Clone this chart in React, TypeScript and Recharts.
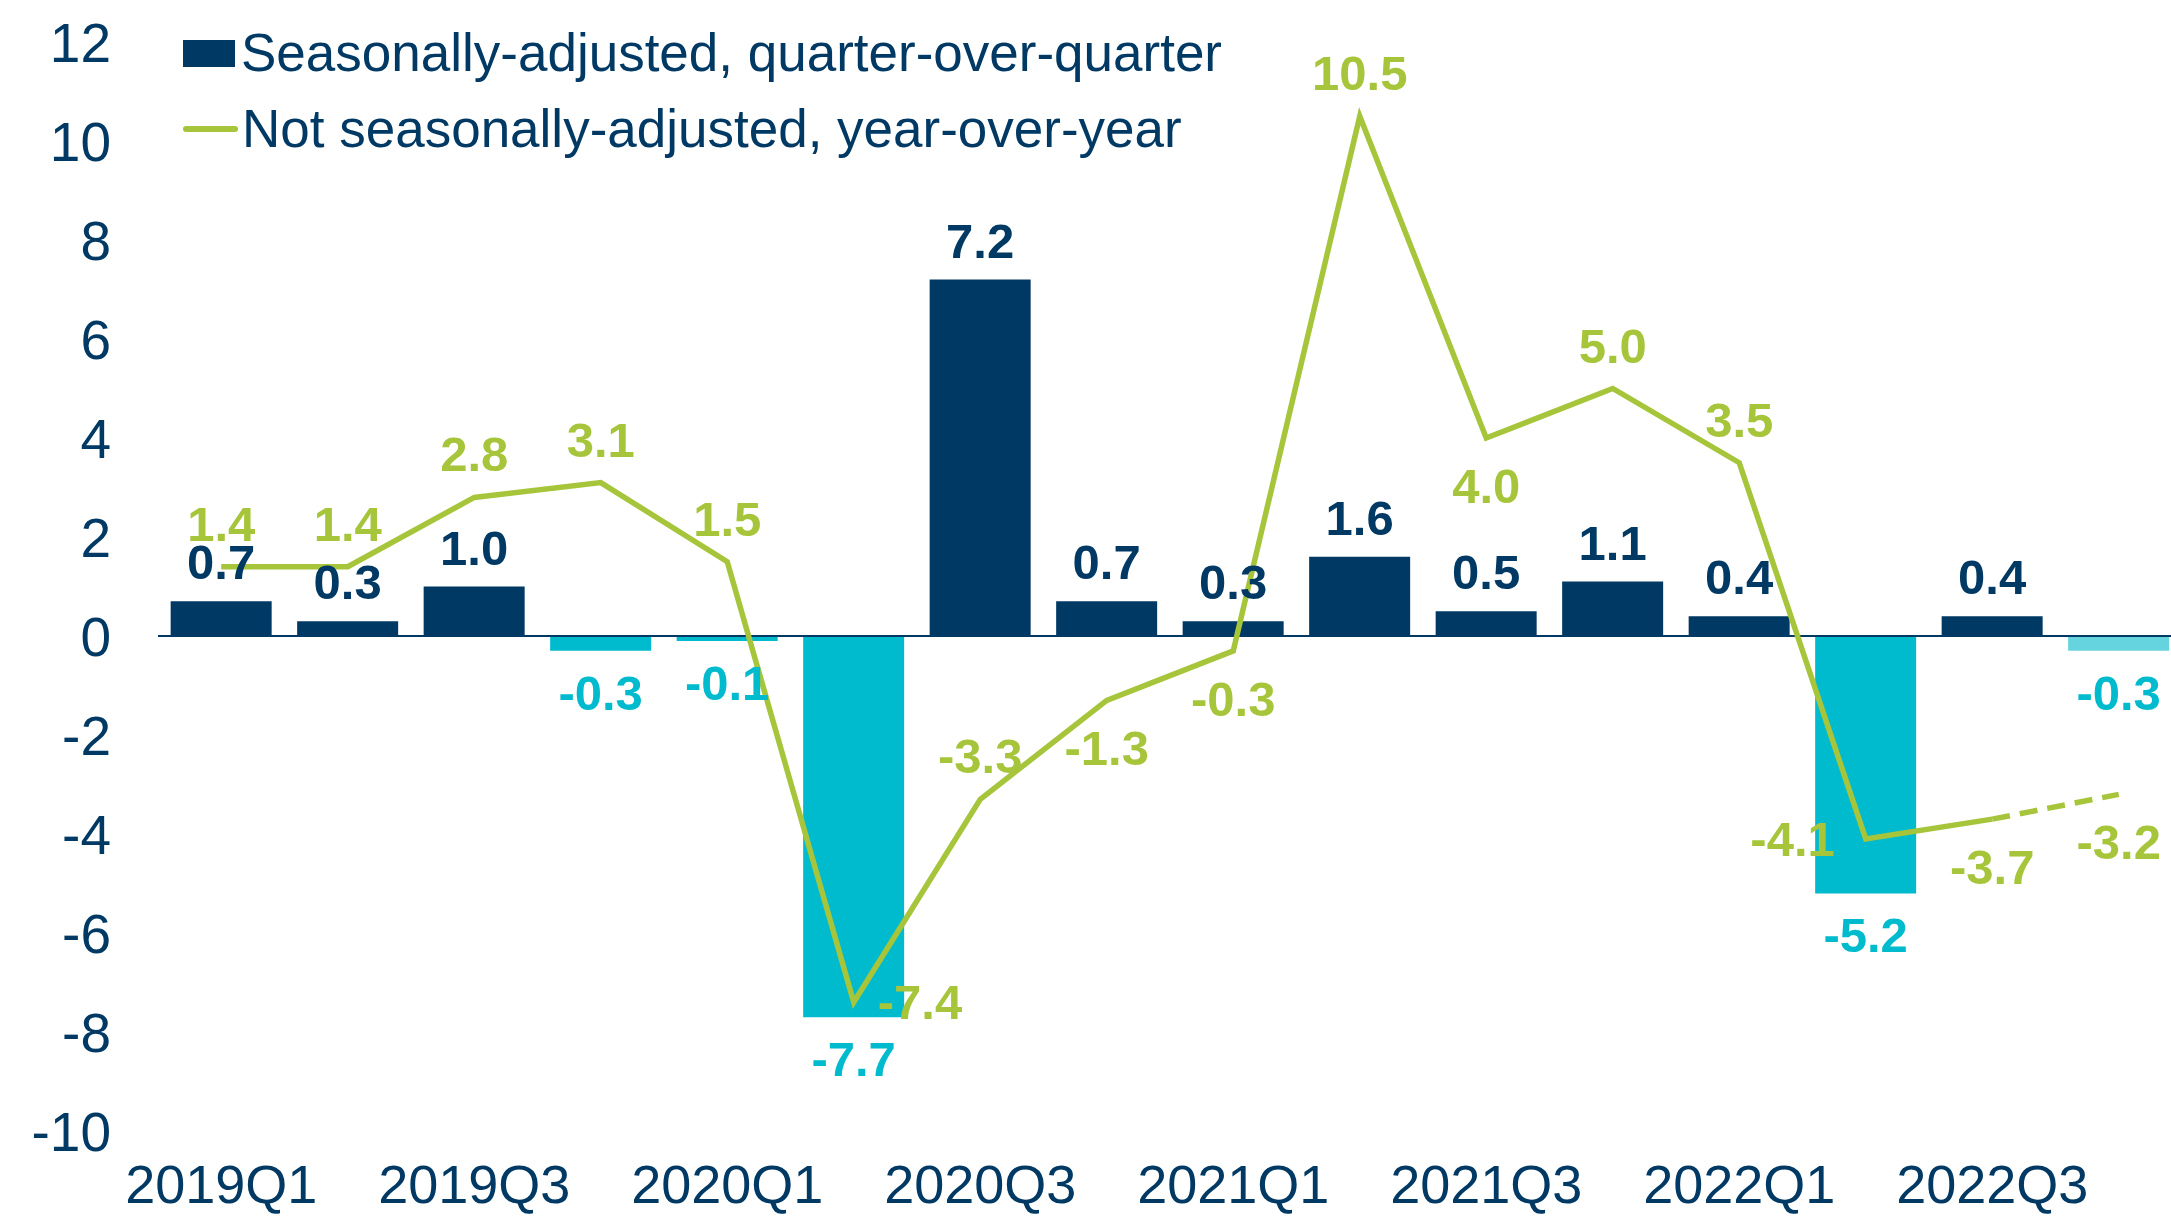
import React from "react";
import {
  ComposedChart,
  Bar,
  Line,
  Cell,
  XAxis,
  YAxis,
  ReferenceLine,
} from "recharts";

const quarters = [
  "2019Q1", "2019Q2", "2019Q3", "2019Q4",
  "2020Q1", "2020Q2", "2020Q3", "2020Q4",
  "2021Q1", "2021Q2", "2021Q3", "2021Q4",
  "2022Q1", "2022Q2", "2022Q3", "2022Q4",
];

// seasonally-adjusted, quarter-over-quarter
const qoq = [0.7, 0.3, 1.0, -0.3, -0.1, -7.7, 7.2, 0.7, 0.3, 1.6, 0.5, 1.1, 0.4, -5.2, 0.4, -0.3];

// not seasonally-adjusted, year-over-year
const yoy = [1.4, 1.4, 2.8, 3.1, 1.5, -7.4, -3.3, -1.3, -0.3, 10.5, 4.0, 5.0, 3.5, -4.1, -3.7, -3.2];

// where each yoy label sits relative to its point
const yoyLabelSide = [
  "top", "top", "top", "top", "top", "right", "top", "bottom",
  "bottom", "top", "bottom", "top", "top", "left", "bottom", "bottom",
];

// quarters that are still estimates (lighter bar, dashed line)
const estimated = ["2022Q4"];

const yTicks = [-10, -8, -6, -4, -2, 0, 2, 4, 6, 8, 10, 12];

const NAVY = "#003963";
const CYAN = "#00BACD";
const CYAN_LIGHT = "#66D4DF";
const GREEN = "#A6C53A";
const FONT = "'Liberation Sans', Arial, sans-serif";

const firstEstimate = quarters.findIndex((q) => estimated.includes(q));

const data = quarters.map((q, i) => ({
  quarter: q,
  qoq: qoq[i],
  yoy: i < firstEstimate ? yoy[i] : null,
  yoyEst: i >= firstEstimate - 1 ? yoy[i] : null,
}));

const barColor = (i: number) => {
  if (qoq[i] >= 0) return NAVY;
  return estimated.includes(quarters[i]) ? CYAN_LIGHT : CYAN;
};

const renderBarLabel = (props: any) => {
  const { x, y, width, height, value } = props;
  if (value == null) return null;
  const top = Math.min(y, y + height);
  const bottom = Math.max(y, y + height);
  const cy = value >= 0 ? top - 39 : bottom + 42;
  return (
    <text
      x={x + width / 2}
      y={cy}
      textAnchor="middle"
      dominantBaseline="central"
      fontFamily={FONT}
      fontWeight="bold"
      fontSize={49}
      fill={value >= 0 ? NAVY : CYAN}
    >
      {value.toFixed(1)}
    </text>
  );
};

const makeLineLabel = (onlyEstimates: boolean) => (props: any) => {
  const { x, y, value, index } = props;
  if (value == null) return null;
  if (onlyEstimates && index < firstEstimate) return null;
  const side = yoyLabelSide[index];
  let dx = 0;
  let dy = 0;
  let anchor: "middle" | "start" | "end" = "middle";
  if (side === "top") dy = -43;
  if (side === "bottom") dy = 48;
  if (side === "left") {
    dx = -31;
    anchor = "end";
  }
  if (side === "right") {
    dx = 24;
    anchor = "start";
  }
  return (
    <text
      key={`yl-${index}`}
      x={x + dx}
      y={y + dy}
      textAnchor={anchor}
      dominantBaseline="central"
      fontFamily={FONT}
      fontWeight="bold"
      fontSize={49}
      fill={GREEN}
    >
      {value.toFixed(1)}
    </text>
  );
};

const Legend = () => (
  <div
    style={{
      position: "absolute",
      left: 183,
      top: 15,
      fontFamily: FONT,
      fontSize: 53,
      color: NAVY,
      lineHeight: "76px",
      whiteSpace: "nowrap",
    }}
  >
    <div style={{ display: "flex", alignItems: "center" }}>
      <span style={{ width: 52, height: 27, background: NAVY, marginRight: 6 }} />
      <span>Seasonally-adjusted, quarter-over-quarter</span>
    </div>
    <div style={{ display: "flex", alignItems: "center" }}>
      <span
        style={{
          width: 55,
          height: 6,
          borderRadius: 3,
          background: GREEN,
          marginRight: 4,
        }}
      />
      <span>Not seasonally-adjusted, year-over-year</span>
    </div>
  </div>
);

export default function App() {
  return (
    <div
      style={{
        position: "fixed",
        left: 0,
        top: 0,
        width: 2171,
        height: 1218,
        overflow: "hidden",
        background: "#fff",
      }}
    >
      <ComposedChart
        width={2200}
        height={1218}
        data={data}
        margin={{ top: 42, right: 18, bottom: 0, left: 0 }}
        barCategoryGap="10%"
      >
        <XAxis
          dataKey="quarter"
          interval={1}
          axisLine={false}
          tickLine={false}
          tickSize={0}
          tickMargin={34}
          height={87}
          tick={{ fill: NAVY, fontSize: 54, fontFamily: FONT }}
        />
        <YAxis
          domain={[-10, 12]}
          ticks={yTicks}
          width={158}
          axisLine={false}
          tickLine={false}
          tickSize={0}
          tickMargin={47}
          tick={{ fill: NAVY, fontSize: 55, fontFamily: FONT }}
        />
        <ReferenceLine y={0} stroke={NAVY} strokeWidth={2} />
        <Bar dataKey="qoq" isAnimationActive={false} label={renderBarLabel}>
          {data.map((d, i) => (
            <Cell key={d.quarter} fill={barColor(i)} />
          ))}
        </Bar>
        <Line
          type="linear"
          dataKey="yoy"
          stroke={GREEN}
          strokeWidth={5.5}
          dot={false}
          isAnimationActive={false}
          label={makeLineLabel(false)}
        />
        <Line
          type="linear"
          dataKey="yoyEst"
          stroke={GREEN}
          strokeWidth={5.5}
          strokeDasharray="18 10"
          dot={false}
          isAnimationActive={false}
          label={makeLineLabel(true)}
        />
      </ComposedChart>
      <Legend />
    </div>
  );
}
